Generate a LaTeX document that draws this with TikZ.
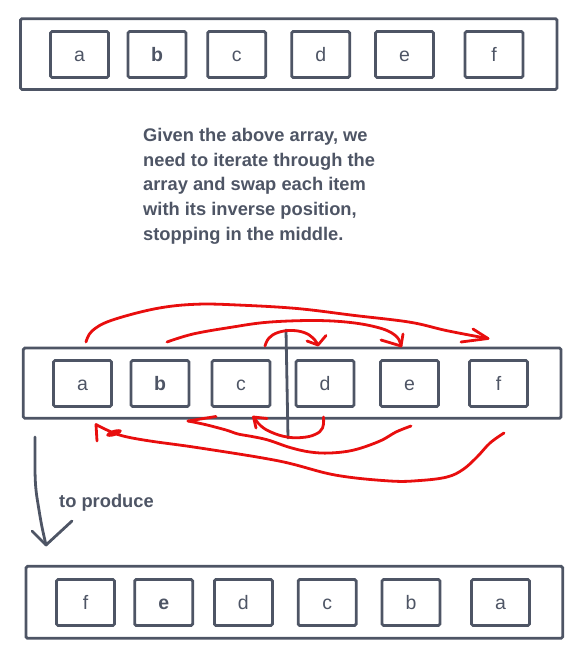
\documentclass[tikz,border=0pt]{standalone}
\usepackage{fontspec}
\setmainfont{Liberation Sans}
\definecolor{slate}{RGB}{78,85,101}
\definecolor{pen}{RGB}{232,14,14}
\begin{document}
\begin{tikzpicture}[x=1pt,y=-1pt,
  cell/.style={draw=slate,line width=2.8pt,rounded corners=1.5pt,minimum width=58pt,minimum height=46pt,inner sep=0pt,text height=14pt,text depth=0pt,text=slate,font=\fontsize{19.5}{19.5}\selectfont},
  frame/.style={draw=slate,line width=2.8pt,rounded corners=1.5pt},
  redline/.style={draw=pen,line width=2.8pt,line cap=round,line join=round},
  grayline/.style={draw=slate,line width=2.8pt,line cap=round,line join=round},
  note/.style={text=slate,font=\fontsize{18.3}{24.7}\selectfont\bfseries,inner sep=0pt}]
\useasboundingbox (0,0) rectangle (581,661);
% top array
\draw[frame] (20.5,18.7) rectangle (557,89.5);
\node[cell] (ta) at (79.5,54.5) {a};
\node[cell] (tb) at (157,54.5) {\bfseries b};
\node[cell] (tc) at (236.7,54.5) {c};
\node[cell] (td) at (320.7,54.5) {d};
\node[cell] (te) at (404.5,54.5) {e};
\node[cell] (tf) at (494,54.5) {f};
% paragraph
\node[note,anchor=north west,align=left] (para) at (143,128) {Given the above array, we\\need to iterate through the\\array and swap each item\\with its inverse position,\\stopping in the middle.};
% middle array
\draw[frame] (23.3,348) rectangle (561,418.3);
\node[cell] (ma) at (82.5,383.5) {a};
\node[cell] (mb) at (160,383.5) {\bfseries b};
\node[cell] (mc) at (241,383.5) {c};
\node[cell] (md) at (325,383.5) {d};
\node[cell] (me) at (409.5,383.5) {e};
\node[cell] (mf) at (498.5,383.5) {f};
\coordinate (divtop) at (286,330);
\coordinate (divbot) at (288,438);
\draw[grayline] (divtop) -- (divbot);
% red arrows
\coordinate (a1s) at (86,342); \coordinate (a1e) at (488,338.5);
\draw[redline] plot[smooth,tension=0.6] coordinates {(a1s) (92,331) (111,320.5) (156,308.6) (197,304.2) (242,305.2) (298,308.6) (354,315.4) (410,322.2) (447,330.7) (a1e)};
\draw[redline] (461,342) -- (a1e) -- (473,329);
\coordinate (a2s) at (167,342); \coordinate (a2e) at (401,346);
\draw[redline] plot[smooth,tension=0.6] coordinates {(a2s) (193,334) (231,327.3) (268,322.2) (316,320.5) (354,322.9) (383,329) (397,337) (a2e)};
\draw[redline] (381,340) -- (a2e) -- (403,334);
\coordinate (a3s) at (265,346); \coordinate (a3e) at (318,345);
\draw[redline] plot[smooth,tension=0.7] coordinates {(a3s) (269,338) (278,332.5) (291,330.5) (304,332.5) (313,338) (a3e)};
\draw[redline] (307,341) -- (a3e) -- (326,335.5);
\coordinate (a4s) at (323.5,417); \coordinate (a4e) at (253.5,417);
\draw[redline] plot[smooth,tension=0.7] coordinates {(a4s) (322.5,428) (315,434.5) (302,437.5) (287,437) (272,432.5) (261,426) (a4e)};
\draw[redline] (256,428) -- (a4e) -- (267,418.5);
\coordinate (a5s) at (411,426); \coordinate (a5e) at (188,421);
\draw[redline] plot[smooth,tension=0.6] coordinates {(a5s) (396,432) (380,441) (354,450) (330,453) (310,452) (290,447.5) (268,440) (252,436.5) (238,434) (226,430) (205,424.5) (a5e)};
\draw[redline] (a5e) -- (216,416.5);
\coordinate (a6s) at (504,433); \coordinate (a6e) at (96,424.5);
\draw[redline] plot[smooth,tension=0.6] coordinates {(a6s) (490,443) (477,457) (463,469.5) (447,477) (420,480.5) (390,481) (335,475) (279,461) (200,448) (150,441) (123,436) (108,430.5) (a6e)};
\draw[redline] (a6e) -- (97,441);
\fill[pen,rotate around={18:(114,433)}] (114,433) ellipse (8pt and 3pt);
% gray arrow
\coordinate (gs) at (35,437); \coordinate (ge) at (46,545);
\draw[grayline] plot[smooth,tension=0.6] coordinates {(gs) (35,470) (36,490) (39,510) (42,527) (ge)};
\draw[grayline] (32,531) -- (ge) -- (72,521);
\node[note,anchor=west] (prod) at (59,503) {to produce};
% bottom array
\draw[frame] (26,566.3) rectangle (562.7,638.3);
\node[cell] (bf) at (85.5,602.5) {f};
\node[cell] (be) at (163.7,602.5) {\bfseries e};
\node[cell] (bd) at (243.4,602.5) {d};
\node[cell] (bc) at (327.2,602.5) {c};
\node[cell] (bb) at (411,602.5) {b};
\node[cell] (ba) at (500.5,602.5) {a};
\end{tikzpicture}
\end{document}
